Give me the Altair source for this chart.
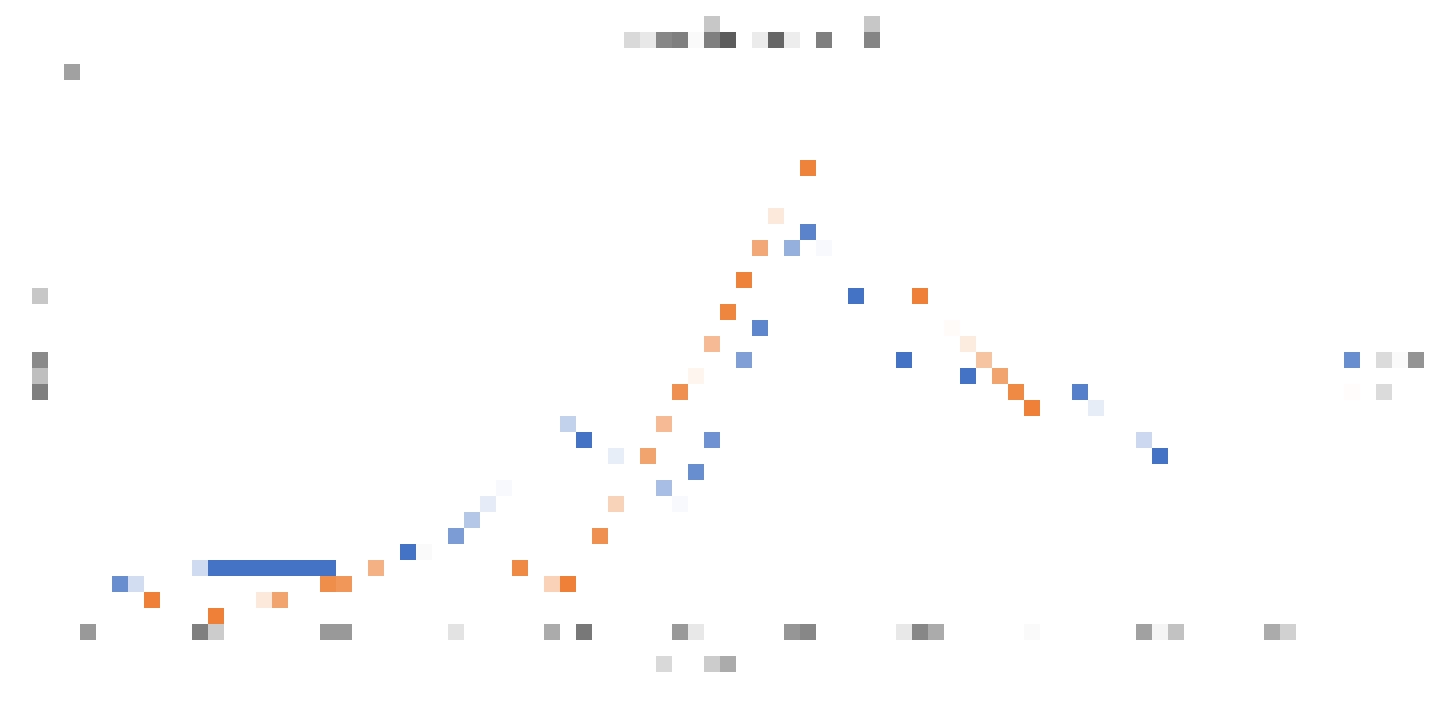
import altair as alt
import pandas as pd

# blue series cells
blue_cols = [50, 49, 51, 53, 47, 46, 36, 35, 44, 38, 43, 41, 42, 31, 30, 29, 28, 25, 12,
             13, 14, 15, 16, 17, 18, 19, 20, 7, 8, 56, 60, 67, 68, 71, 72, 84]
blue_rows = [14, 15, 15, 18, 20, 22, 27, 26, 27, 28, 29, 30, 31, 30, 31, 32, 33, 34, 35,
             35, 35, 35, 35, 35, 35, 35, 35, 36, 36, 22, 23, 24, 25, 27, 28, 22]
blue_alpha = [0.88, 0.56, 0.04, 1.0, 0.86, 0.68, 1.0, 0.32, 0.77, 0.12, 0.8, 0.46, 0.04, 0.04, 0.14, 0.4, 0.7, 1.0, 0.26,
              1.0, 1.0, 1.0, 1.0, 1.0, 1.0, 1.0, 1.0, 0.8, 0.24, 1.0, 1.0, 0.9, 0.13, 0.28, 1.0, 0.8]

# orange series cells
orange_cols = [50, 48, 47, 46, 45, 44, 43, 42, 41, 40, 38, 37, 32, 23, 20, 21, 34, 35, 9, 16, 17, 13,
               57, 59, 60, 61, 62, 63, 64, 84]
orange_rows = [10, 13, 15, 17, 19, 21, 23, 24, 26, 28, 31, 33, 35, 35, 36, 36, 36, 36, 37, 37, 37, 38,
               18, 20, 21, 22, 23, 24, 25, 24]
orange_alpha = [0.95, 0.17, 0.66, 0.95, 0.93, 0.52, 0.08, 0.85, 0.52, 0.7, 0.34, 0.85, 0.9, 0.6, 0.88, 0.8, 0.35, 0.97, 0.97, 0.17, 0.7, 0.97,
                0.97, 0.03, 0.15, 0.45, 0.7, 0.9, 0.97, 0.02]

# gray series cells
gray_cols = [39, 40, 41, 42, 43, 44, 45, 47, 48, 49, 51, 54, 44, 54,
             4, 2, 2, 2, 2,
             5, 12, 13, 20, 21, 28, 34, 36, 42, 43, 49, 50, 56, 57, 58, 64, 71, 72, 73, 79, 80,
             41, 44, 45, 26, 86, 87, 88, 86]
gray_rows = [2, 2, 2, 2, 2, 2, 2, 2, 2, 2, 2, 2, 1, 1,
             4, 18, 22, 23, 24,
             39, 39, 39, 39, 39, 39, 39, 39, 39, 39, 39, 39, 39, 39, 39, 39, 39, 39, 39, 39, 39,
             41, 41, 41, 34, 22, 22, 22, 24]
gray_alpha = [0.15, 0.09, 0.47, 0.5, 0.02, 0.5, 0.64, 0.08, 0.6, 0.07, 0.5, 0.48, 0.22, 0.22,
              0.37, 0.22, 0.46, 0.25, 0.5,
              0.4, 0.5, 0.2, 0.4, 0.4, 0.11, 0.33, 0.53, 0.4, 0.09, 0.41, 0.47, 0.09, 0.47, 0.33, 0.02, 0.37, 0.04, 0.24, 0.33, 0.18,
              0.15, 0.2, 0.33, 0.02, 0.14, 0.02, 0.42, 0.14]

series_names = ["blue", "orange", "gray"]
series_colors = ["#4472C4", "#ED7D31", "#000000"]

frames = []
for name, cs, rs, al in [("blue", blue_cols, blue_rows, blue_alpha),
                         ("orange", orange_cols, orange_rows, orange_alpha),
                         ("gray", gray_cols, gray_rows, gray_alpha)]:
    frames.append(pd.DataFrame({"c": cs, "r": rs, "a": al, "s": name}))
df = pd.concat(frames, ignore_index=True)

chart = alt.Chart(df).transform_calculate(
    c2="datum.c + 1", r2="datum.r + 1"
).mark_rect().encode(
    x=alt.X("c:Q", scale=alt.Scale(domain=[0.5, 89.5], nice=False, zero=False), axis=None),
    x2="c2:Q",
    y=alt.Y("r:Q", scale=alt.Scale(domain=[0.5, 43.5625], nice=False, zero=False, reverse=True), axis=None),
    y2="r2:Q",
    color=alt.Color("s:N", scale=alt.Scale(domain=series_names, range=series_colors), legend=None),
    opacity=alt.Opacity("a:Q", scale=None),
).properties(
    width=1424, height=689, padding=0, autosize=alt.AutoSizeParams(type="none")
).configure_view(stroke=None)

chart.save("out.html", embed_options={"renderer": "svg", "actions": False})
